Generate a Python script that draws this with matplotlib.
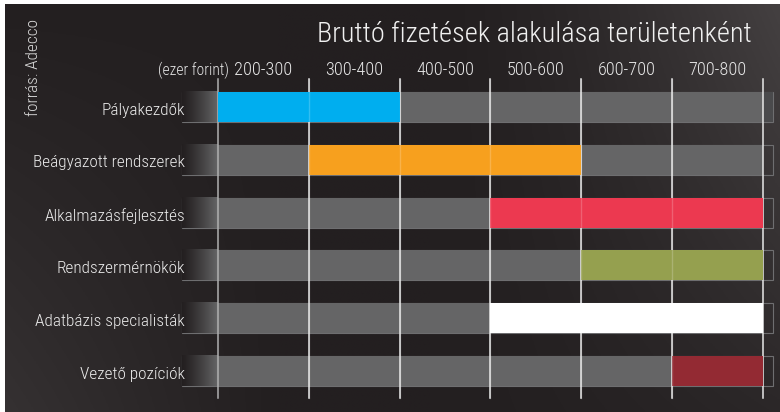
import os
import numpy as np
import matplotlib
matplotlib.use("Agg")
import matplotlib.pyplot as plt
from matplotlib.patches import Rectangle
from matplotlib import font_manager as fm

# pick a narrow font if one is installed
wanted = ["RobotoCondensed-Light", "RobotoCondensed-Regular", "OpenSansCondensed-Light",
          "OpenSans_Condensed-Light", "OpenSans-CondensedLight", "OpenSans_Condensed-Regular",
          "LiberationSansNarrow-Regular", "DejaVuSansCondensed.ttf"]
files = [f.fname for f in fm.fontManager.ttflist]
narrow = None
for w in wanted:
    hit = [f for f in files if w.lower() in os.path.basename(f).lower()]
    if hit:
        narrow = hit[0]
        break
fp = fm.FontProperties(fname=narrow) if narrow else fm.FontProperties(family="DejaVu Sans")

categories = ["Pályakezdők", "Beágyazott rendszerek", "Alkalmazásfejlesztés",
              "Rendszermérnökök", "Adatbázis specialisták", "Vezető pozíciók"]
low = [200, 300, 500, 600, 500, 700]
high = [400, 600, 800, 800, 800, 800]
colors = ["#00aeef", "#f7a01e", "#ec3950", "#95a04f", "#ffffff", "#932a33"]
bands = ["200-300", "300-400", "400-500", "500-600", "600-700", "700-800"]
edges = [200, 300, 400, 500, 600, 700, 800]

W, H = 780, 412
fig = plt.figure(figsize=(W / 100, H / 100), dpi=100)
fig.patch.set_facecolor("white")
renderer = fig.canvas.get_renderer()


def fit(text, target_px, size=12):
    # font size that gives the text the wanted width in pixels
    t = fig.text(0, 0, text, fontproperties=fp, fontsize=size)
    w = t.get_window_extent(renderer).width
    t.remove()
    return size * target_px / w


# dark background with soft light towards the corners
bg = fig.add_axes([5 / W, 0, 1 - 5 / W, 1 - 4 / H])
bg.set_axis_off()
xx, yy = np.meshgrid(np.linspace(0, 1, 300), np.linspace(0, 1, 160))
light = 0.13 * np.clip((xx - 0.55) / 0.45, 0, 1) ** 1.5 * (1 - yy * 0.75)
light += 0.07 * np.clip((0.35 - xx) / 0.35, 0, 1) * yy
base = np.array([0x23, 0x1f, 0x20]) / 255
img = np.clip(base[None, None, :] + light[..., None], 0, 1)
bg.imshow(img, aspect="auto", extent=(0, 1, 1, 0))
bg.set_xlim(0, 1)
bg.set_ylim(1, 0)

ax = fig.add_axes([0, 0, 1, 1])
ax.set_axis_off()
ax.patch.set_alpha(0)
px = 0.9083  # pixels per 1 ezer forint
rows = np.arange(len(categories))
step = 52.8

bh = 0.57
left_fade = 200 - 36 / px
right_end = 800 + 10 / px
gray = "#656566"

for i in rows:
    y0 = i - bh / 2
    ax.add_patch(Rectangle((left_fade, y0), right_end - left_fade, bh, fill=False,
                           ec="#6e6e70", lw=0.8, zorder=2))
    fade = np.linspace(0, 1, 60)[None, :] ** 1.2
    c0 = np.array([0x23, 0x1f, 0x20]) / 255
    c1 = np.array([0x65, 0x65, 0x66]) / 255
    grad = c0 + (c1 - c0) * fade[..., None]
    ax.imshow(grad, aspect="auto", extent=(left_fade, 200, i + bh / 2, y0), zorder=2)
    ax.add_patch(Rectangle((200, y0), 600, bh, color=gray, lw=0, zorder=2))
    if i == 0:
        ax.add_patch(Rectangle((800, y0), right_end - 800, bh, color="#4a4a4c", lw=0, zorder=2))

ax.set_xlim(200 - 218 / px, 200 + (W - 218) / px)
ax.set_ylim((H - 107) / step, -107 / step)

# grid lines
ytop = ax.get_ylim()[1] + 79 / step
ybot = ax.get_ylim()[1] + 398 / step
for k, e in enumerate(edges):
    ax.plot([e, e], [ytop, ybot], color="#b0b0b0" if k == 0 else "#e8e8e8", lw=1.1, zorder=3)

# salary ranges
for i in rows:
    ax.barh(i, high[i] - low[i], left=low[i], height=bh, color=colors[i], lw=0, zorder=4)
for e in edges[1:-1]:
    ax.plot([e, e], [ytop, ybot], color="white", lw=1, alpha=0.2, zorder=5)

# labels
lab_fs = fit("Beágyazott rendszerek", 152)
for i in rows:
    ax.text(left_fade + 3 / px, i + 0.06, categories[i], ha="right", va="center",
            color="#ececec", fontproperties=fp, fontsize=lab_fs, zorder=6)

hy = ax.get_ylim()[1] + 70 / step
head_fs = fit("200-300", 58)
for k, b in enumerate(bands):
    ax.text((edges[k] + edges[k + 1]) / 2, hy, b, ha="center", va="center",
            color="#e6e6e6", fontproperties=fp, fontsize=head_fs)
ax.text(200 + 11 / px, hy, "(ezer forint)", ha="right", va="center",
        color="#e6e6e6", fontproperties=fp, fontsize=fit("(ezer forint)", 71))

fig.text(752 / W, 1 - 35 / H, "Bruttó fizetések alakulása területenként", ha="right",
         va="center", color="#f0f0f0", fontproperties=fp,
         fontsize=fit("Bruttó fizetések alakulása területenként", 434))
fig.text(33 / W, 1 - 67 / H, "forrás: Adecco", rotation=90, ha="center", va="center",
         color="#d8d8d8", fontproperties=fp, fontsize=fit("forrás: Adecco", 97))

fig.savefig("out.png", dpi=100, facecolor=fig.get_facecolor())
